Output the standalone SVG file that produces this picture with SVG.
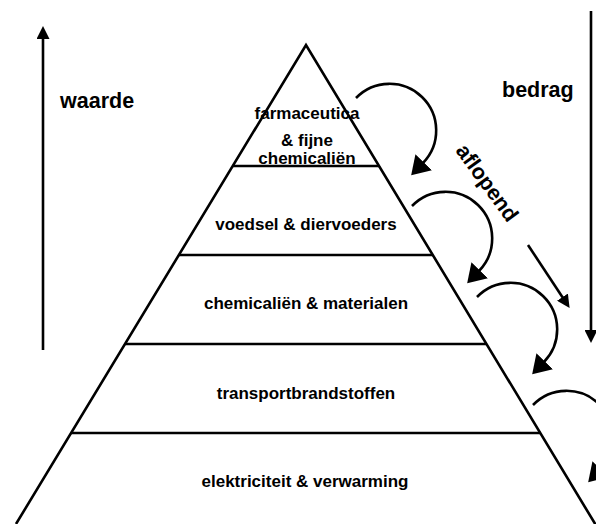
<svg xmlns="http://www.w3.org/2000/svg" width="596" height="524" viewBox="0 0 596 524">
<style>
.ln{stroke:#000;stroke-width:2.6;fill:none}
.lbl{font-family:"Liberation Sans",Arial,sans-serif;font-weight:bold;font-size:17px;fill:#000;text-anchor:middle}
.big{font-family:"Liberation Sans",Arial,sans-serif;font-weight:bold;font-size:21.5px;fill:#000}
</style>
<defs>
<marker id="ah" markerUnits="userSpaceOnUse" viewBox="0 0 18 23" markerWidth="18" markerHeight="23" refX="1" refY="11.5" orient="auto">
<path d="M0,0 L18,11.5 L0,23 z" fill="#000"/>
</marker>
<marker id="sh" markerUnits="userSpaceOnUse" viewBox="0 0 13 13" markerWidth="13" markerHeight="13" refX="1" refY="6.5" orient="auto">
<path d="M0,0 L13,6.5 L0,13 z" fill="#000"/>
</marker>
</defs>
<rect width="596" height="524" fill="#fff"/>
<g id="pyramid">
<path class="ln" d="M16,524 L306,45 L597,527"/>
<line class="ln" x1="233" y1="166" x2="379" y2="166"/>
<line class="ln" x1="179" y1="255" x2="433" y2="255"/>
<line class="ln" x1="125" y1="344" x2="487" y2="344"/>
<line class="ln" x1="71" y1="433" x2="541" y2="433"/>
</g>
<g id="layer1">
<text class="lbl" x="307" y="119">farmaceutica</text>
<text class="lbl" x="307" y="146">&amp; fijne</text>
<text class="lbl" x="307" y="164">chemicaliën</text>
</g>
<g id="layer2"><text class="lbl" x="306" y="230">voedsel &amp; diervoeders</text></g>
<g id="layer3"><text class="lbl" x="306" y="309">chemicaliën &amp; materialen</text></g>
<g id="layer4"><text class="lbl" x="306" y="399">transportbrandstoffen</text></g>
<g id="layer5"><text class="lbl" x="305" y="487">elektriciteit &amp; verwarming</text></g>
<g id="labels">
<text class="big" x="60" y="108">waarde</text>
<text class="big" x="502" y="97">bedrag</text>
<text class="big" transform="translate(487,183) rotate(54)" text-anchor="middle" dy="7">aflopend</text>
</g>
<g id="connectors">
<line class="ln" x1="43" y1="350" x2="43" y2="38" marker-end="url(#sh)"/>
<line class="ln" x1="591" y1="11" x2="591" y2="331" marker-end="url(#sh)"/>
<line class="ln" x1="528" y1="245" x2="563" y2="298" marker-end="url(#sh)"/>
<path class="ln" d="M356,98 A46,46 0 0 1 423,163" marker-end="url(#ah)"/>
<path class="ln" d="M412,206 A46,46 0 0 1 479,271" marker-end="url(#ah)"/>
<path class="ln" d="M477,297 A46,46 0 0 1 544,362" marker-end="url(#ah)"/>
<path class="ln" d="M533,405 A46,46 0 0 1 600,470" marker-end="url(#ah)"/>
</g>
</svg>
